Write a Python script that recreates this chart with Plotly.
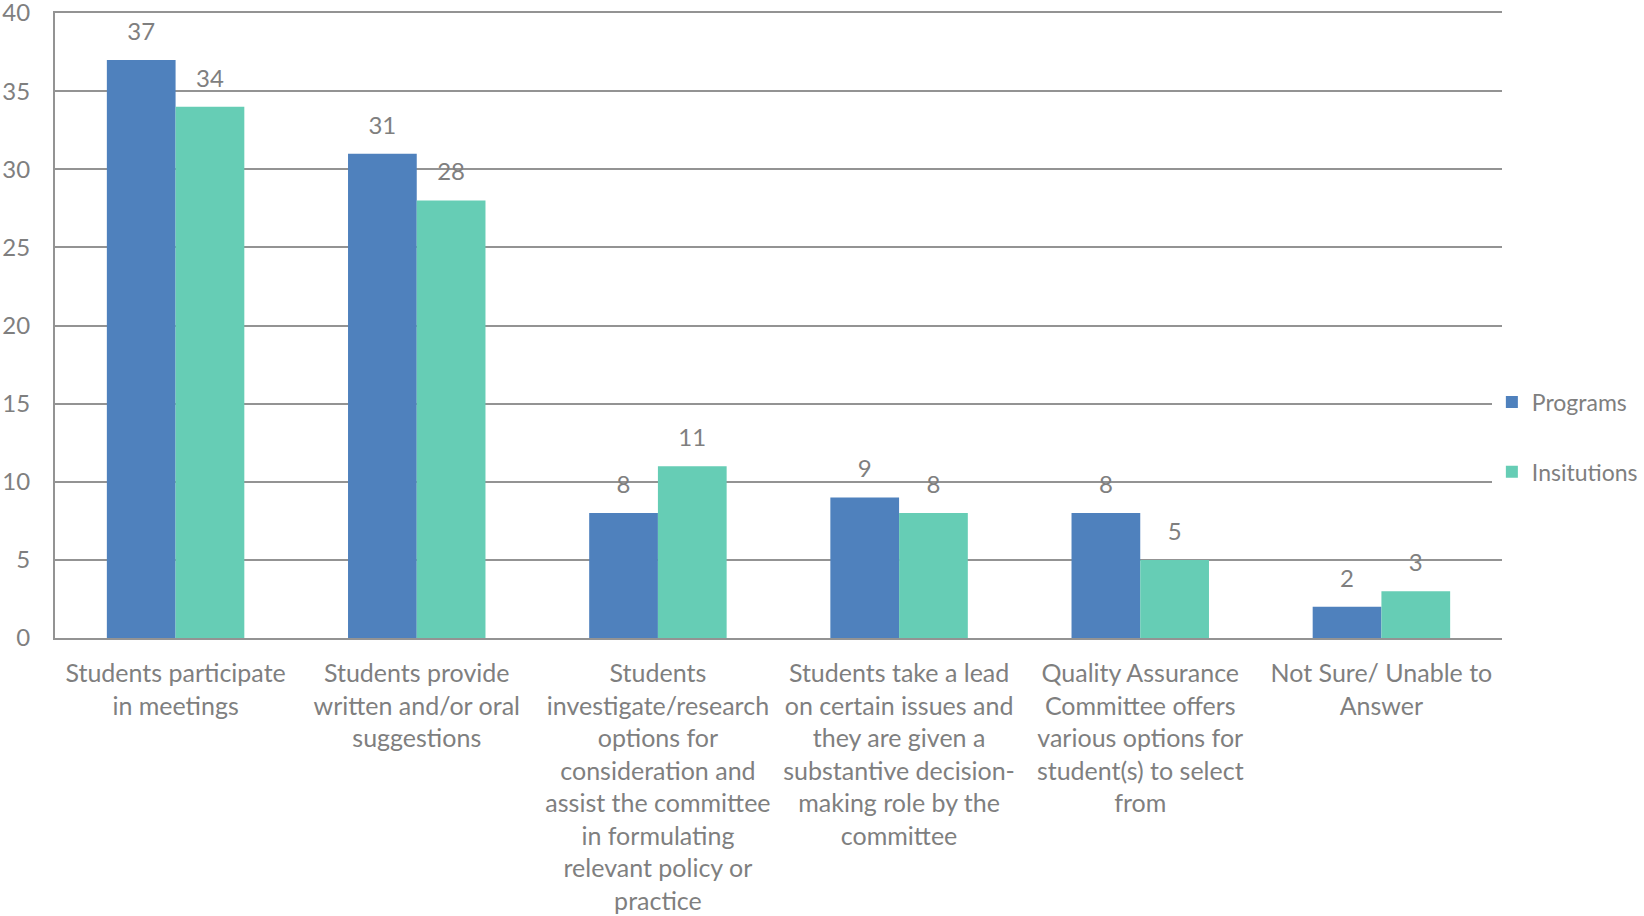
import plotly.graph_objects as go

categories = [
    "Students participate<br>in meetings",
    "Students provide<br>written and/or oral<br>suggestions",
    "Students<br>investigate/research<br>options for<br>consideration and<br>assist the committee<br>in formulating<br>relevant policy or<br>practice",
    "Students take a lead<br>on certain issues and<br>they are given a<br>substantive decision-<br>making role by the<br>committee",
    "Quality Assurance<br>Committee offers<br>various options for<br>student(s) to select<br>from",
    "Not Sure/ Unable to<br>Answer",
]
programs = [37, 31, 8, 9, 8, 2]
institutions = [34, 28, 11, 8, 5, 3]

FONT = "Lato"
GRAY = "#7f7f7f"
BLUE = "#4f81bd"
TEAL = "#66cdb5"
LINE = "#939393"

fig = go.Figure()
for name, vals, color, grp in [("Programs", programs, BLUE, "a"),
                               ("Insitutions", institutions, TEAL, "b")]:
    fig.add_trace(go.Bar(
        x=categories, y=vals, name=name, legendgroup=grp,
        marker=dict(color=color, line=dict(width=0)),
        hoverinfo="x+y",
    ))
for vals in [programs, institutions]:
    fig.add_trace(go.Scatter(
        x=categories, y=vals, mode="markers+text", text=vals,
        textposition="top center", showlegend=False, hoverinfo="skip",
        marker=dict(size=21, opacity=0),
        textfont=dict(family=FONT, size=24, color=GRAY), cliponaxis=False,
    ))

fig.update_layout(
    width=1644, height=916,
    margin=dict(l=55, r=142, t=13, b=278, autoexpand=False),
    paper_bgcolor="white", plot_bgcolor="white",
    barmode="group", bargap=0.43, bargroupgap=0,
    scattermode="group", scattergap=0.43,
    font=dict(family=FONT, size=24, color=GRAY),
    showlegend=True,
    legend=dict(x=0.993, xanchor="left", y=0.412, yanchor="top",
                font=dict(family=FONT, size=23, color=GRAY),
                tracegroupgap=37, itemwidth=30),
)
fig.update_xaxes(
    showline=True, linecolor=LINE, linewidth=2, mirror=True, automargin=False,
    tickfont=dict(family=FONT, size=25, color=GRAY),
    ticks="", tickangle=0, ticklabelstandoff=12,
)
fig.update_yaxes(
    range=[0, 40], dtick=5, showgrid=True, gridcolor=LINE, gridwidth=2,
    showline=True, linecolor=LINE, linewidth=2, zeroline=False, automargin=False,
    tickfont=dict(family=FONT, size=24, color=GRAY), ticks="",
    ticklabelstandoff=18, ticklabeloverflow="allow",
)

fig.write_html("out.html", config={"displayModeBar": False},
               post_script="document.body.style.margin='0';")
